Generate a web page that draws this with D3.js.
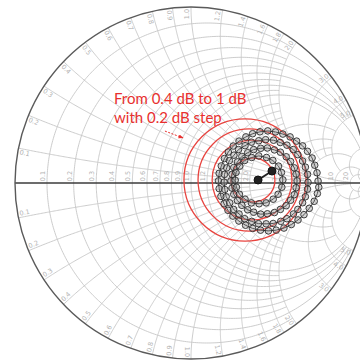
<!DOCTYPE html>
<html>
<head>
<meta charset="utf-8">
<script src="https://cdn.jsdelivr.net/npm/d3@7"></script>
<style>
  html, body { margin: 0; padding: 0; background: #fff; }
  svg { display: block; }
</style>
</head>
<body>
<svg id="chart" width="360" height="361"></svg>
<script>
// ---- Smith chart grid ----
const gridValues = [0.1, 0.2, 0.3, 0.4, 0.5, 0.6, 0.7, 0.8, 0.9, 1.0, 1.2, 1.4, 1.6, 1.8, 2.0, 3.0, 4.0, 5.0, 10, 20, 50];
const gridLabels = ["0.1", "0.2", "0.3", "0.4", "0.5", "0.6", "0.7", "0.8", "0.9", "1.0", "1.2", "1.4", "1.6", "1.8", "2.0", "3.0", "4.0", "5.0", "10", "20", "50"];
// how far (in |x|) each constant-resistance circle is drawn
const resistanceReach = [2, 5, 2, 5, 2, 5, 2, 5, 2, 20, 2, 2, 2, 2, 5, 5, 5, 10, 20, 50, 10000];
// how far (in r) each constant-reactance arc is drawn
const reactanceReach = [2, 5, 2, 5, 2, 5, 2, 5, 2, 20, 2, 2, 2, 2, 5, 5, 5, 10, 20, 50, 10000];

// ---- Noise-figure circles: NF (dB), centre Γ and radius ----
const nfLevels = [0.4, 0.6, 0.8, 1.0];
const nfCentreRe = [0.352, 0.347, 0.330, 0.307];
const nfCentreIm = [0.017, 0.017, 0.017, 0.017];
const nfRadius = [0.125, 0.227, 0.290, 0.347];

// ---- Source-reflection loci (Γ = [re, im]) ----
const traceA = [[0.722,0.011],[0.716,0.058],[0.703,0.101],[0.688,0.142],[0.662,0.180],[0.634,0.211],[0.600,0.238],[0.563,0.262],[0.522,0.278],[0.480,0.290],[0.436,0.296],[0.392,0.291],[0.350,0.280],[0.312,0.262],[0.273,0.238],[0.240,0.210],[0.212,0.176],[0.190,0.139],[0.172,0.097],[0.160,0.055],[0.156,0.012],[0.160,-0.032],[0.170,-0.076],[0.188,-0.118],[0.210,-0.155],[0.238,-0.188],[0.272,-0.216],[0.310,-0.240],[0.350,-0.258],[0.395,-0.268],[0.440,-0.272],[0.484,-0.268],[0.528,-0.256],[0.570,-0.236],[0.608,-0.210],[0.642,-0.180],[0.672,-0.144],[0.700,-0.104],[0.718,-0.060],[0.726,-0.024]];
const traceB = [[0.665,0.004],[0.662,0.049],[0.650,0.090],[0.634,0.125],[0.607,0.161],[0.581,0.190],[0.545,0.215],[0.507,0.230],[0.469,0.243],[0.424,0.246],[0.385,0.240],[0.343,0.232],[0.307,0.212],[0.270,0.190],[0.244,0.158],[0.218,0.127],[0.203,0.086],[0.190,0.049],[0.188,0.005],[0.192,-0.037],[0.200,-0.078],[0.220,-0.113],[0.242,-0.150],[0.273,-0.176],[0.305,-0.203],[0.345,-0.218],[0.383,-0.231],[0.427,-0.232],[0.467,-0.230],[0.510,-0.218],[0.545,-0.203],[0.582,-0.176],[0.607,-0.150],[0.634,-0.112],[0.650,-0.078],[0.662,-0.035]];
const traceC = [[0.603,0.012],[0.597,0.051],[0.587,0.086],[0.566,0.122],[0.541,0.149],[0.508,0.175],[0.474,0.188],[0.434,0.199],[0.396,0.197],[0.356,0.190],[0.322,0.172],[0.289,0.151],[0.264,0.120],[0.243,0.088],[0.233,0.049],[0.227,0.012],[0.233,-0.029],[0.243,-0.064],[0.264,-0.100],[0.289,-0.127],[0.322,-0.152],[0.356,-0.166],[0.396,-0.177],[0.434,-0.175],[0.474,-0.168],[0.508,-0.150],[0.541,-0.129],[0.566,-0.098],[0.587,-0.066],[0.597,-0.027]];
const traceD = [[0.522,0.018],[0.514,0.060],[0.497,0.096],[0.465,0.128],[0.429,0.145],[0.385,0.154],[0.345,0.145],[0.305,0.128],[0.277,0.096],[0.256,0.060],[0.251,0.016],[0.258,-0.024],[0.275,-0.064],[0.307,-0.092],[0.343,-0.113],[0.387,-0.118],[0.427,-0.113],[0.467,-0.092],[0.495,-0.064],[0.516,-0.024]];
const optimumPoints = [[0.381,0.017],[0.460,0.068]];

// ---- Annotation ----
const noteLines = ["From 0.4 dB to 1 dB", "with 0.2 dB step"];
const noteAnchor = [-0.4375, 0.449];
const noteArrow = [[-0.148, 0.295], [-0.045, 0.256]];

// ---- Layout ----
const W = 360;
const cx = 191, cy = 183, R = 176;
const svg = d3.select("#chart");
const sx = d3.scaleLinear().domain([-1, 1]).range([cx - R, cx + R]);
const sy = d3.scaleLinear().domain([-1, 1]).range([cy + R, cy - R]);
const line = d3.line().x(d => sx(d[0])).y(d => sy(d[1]));

// normalised impedance r + jx  ->  reflection coefficient Γ
function gamma(r, x) {
  const d = (r + 1) * (r + 1) + x * x;
  return [(r * r - 1 + x * x) / d, (2 * x) / d];
}

const gridColor = "#c6c6c6";
const labelColor = "#b2b2b2";
const grid = svg.append("g").attr("fill", "none").attr("stroke", gridColor).attr("stroke-width", 0.9);

// constant-resistance circles
gridValues.forEach((r, i) => {
  const umax = Math.atan(resistanceReach[i]);
  const pts = d3.range(0, 361).map(k => gamma(r, Math.tan(-umax + 2 * umax * k / 360)));
  grid.append("path").attr("d", line(pts));
});

// constant-reactance arcs (both signs)
gridValues.forEach((x, i) => {
  const umax = Math.atan(reactanceReach[i]);
  [1, -1].forEach(s => {
    const pts = d3.range(0, 241).map(k => gamma(Math.tan(umax * k / 240), s * x));
    grid.append("path").attr("d", line(pts));
  });
});

// resistance labels along the real axis
const labels = svg.append("g").attr("fill", labelColor)
  .attr("font-family", "DejaVu Sans, sans-serif").attr("font-size", 6.5);
gridValues.forEach((r, i) => {
  const px = sx(gamma(r, 0)[0]) - 4, py = cy - 7;
  if (px > W - 6) return;
  labels.append("text").attr("x", px).attr("y", py)
    .attr("transform", `rotate(-90,${px},${py})`)
    .attr("text-anchor", "middle").attr("dominant-baseline", "central")
    .text(gridLabels[i]);
});

// reactance labels near the rim
gridValues.forEach((x, i) => {
  [1, -1].forEach(s => {
    const g = gamma(0, s * x);
    const phi = Math.atan2(g[1], g[0]);              // math angle on the rim
    const toward = s > 0 ? 1 : -1;                    // step along rim toward Γ = -1
    const ang = phi + toward * 4 / R;
    const rr = R - 7;
    const px = cx + rr * Math.cos(ang), py = cy - rr * Math.sin(ang);
    if (px > W - 8) return;                           // beyond the visible edge
    let rot = -phi * 180 / Math.PI;
    if (rot > 90) rot -= 180;
    if (rot <= -90.01) rot += 180;
    labels.append("text").attr("x", px).attr("y", py)
      .attr("transform", `rotate(${rot},${px},${py})`)
      .attr("text-anchor", "middle").attr("dominant-baseline", "central")
      .text(gridLabels[i]);
  });
});

// real axis and outer rim
svg.append("line")
  .attr("x1", sx(-1)).attr("x2", sx(1)).attr("y1", sy(0)).attr("y2", sy(0))
  .attr("stroke", "#3b3b3b").attr("stroke-width", 1.3);
svg.append("circle")
  .attr("cx", sx(0)).attr("cy", sy(0)).attr("r", sx(1) - sx(0))
  .attr("fill", "none").attr("stroke", "#5a5a5a").attr("stroke-width", 1.4);

// noise-figure circles
const nf = svg.append("g").attr("fill", "none").attr("stroke", "#e8443f").attr("stroke-width", 1.3);
nfLevels.forEach((lvl, i) => {
  nf.append("circle")
    .attr("cx", sx(nfCentreRe[i])).attr("cy", sy(nfCentreIm[i]))
    .attr("r", sx(nfRadius[i]) - sx(0));
});

// reflection loci with open markers
const traces = [traceA, traceB, traceC, traceD];
const tr = svg.append("g");
traces.forEach(t => {
  tr.append("path").attr("d", d3.line().x(d => sx(d[0])).y(d => sy(d[1])).curve(d3.curveLinearClosed)(t))
    .attr("fill", "none").attr("stroke", "#2a2a2a").attr("stroke-width", 1);
});
traces.forEach(t => {
  tr.selectAll(null).data(t).join("circle")
    .attr("cx", d => sx(d[0])).attr("cy", d => sy(d[1])).attr("r", 3.3)
    .attr("fill", "rgba(150,150,150,0.4)").attr("stroke", "#2e2e2e").attr("stroke-width", 0.9);
});
tr.append("path").attr("d", line(optimumPoints))
  .attr("stroke", "#222").attr("stroke-width", 2).attr("fill", "none");
tr.selectAll(null).data(optimumPoints).join("circle")
  .attr("cx", d => sx(d[0])).attr("cy", d => sy(d[1])).attr("r", 4)
  .attr("fill", "#222").attr("stroke", "#111").attr("stroke-width", 1);

// annotation
const note = svg.append("g").attr("fill", "#e8302e")
  .attr("font-family", "Lato, 'Open Sans', sans-serif").attr("font-size", 15);
noteLines.forEach((t, i) => {
  note.append("text").attr("x", sx(noteAnchor[0])).attr("y", sy(noteAnchor[1]) + i * 19).text(t);
});
const defs = svg.append("defs");
defs.append("marker").attr("id", "arrowHead").attr("viewBox", "0 0 10 10")
  .attr("refX", 9).attr("refY", 5).attr("markerWidth", 5).attr("markerHeight", 5)
  .attr("orient", "auto")
  .append("path").attr("d", "M0,1 L10,5 L0,9 Z").attr("fill", "#e8302e");
svg.append("path").attr("d", line(noteArrow))
  .attr("stroke", "#e8302e").attr("stroke-width", 1).attr("stroke-dasharray", "2,1.5")
  .attr("fill", "none").attr("marker-end", "url(#arrowHead)");
</script>
</body>
</html>
